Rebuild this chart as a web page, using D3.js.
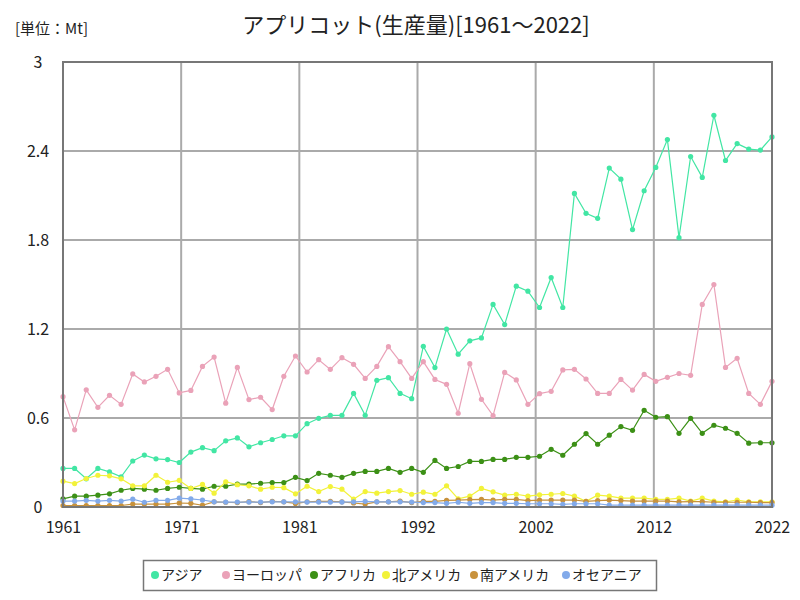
<!DOCTYPE html>
<html><head><meta charset="utf-8">
<script src="https://cdn.jsdelivr.net/npm/d3@7"></script>
<style>body{margin:0;background:#fff}</style>
</head><body>
<svg id="c" width="800" height="600"></svg>
<script>
const years = d3.range(1961, 2023);
const seriesNames = ["アジア","ヨーロッパ","アフリカ","北アメリカ","南アメリカ","オセアニア"];
const seriesColors = ["#42e6a4","#eaa2b8","#3c9016","#f2f23a","#c8923c","#82aaea"];
const asia = [0.26,0.26,0.19,0.26,0.237,0.204,0.31,0.35,0.325,0.32,
0.30,0.37,0.40,0.38,0.446,0.466,0.406,0.433,0.455,0.48,
0.48,0.562,0.598,0.618,0.618,0.766,0.618,0.854,0.872,0.766,
0.73,1.083,0.94,1.20,1.03,1.12,1.14,1.366,1.23,1.489,
1.455,1.345,1.547,1.345,2.114,1.98,1.946,2.285,2.21,1.87,
2.132,2.289,2.477,1.816,2.363,2.222,2.641,2.336,2.45,2.413,
2.406,2.495];
const europe = [0.744,0.52,0.79,0.672,0.753,0.692,0.897,0.843,0.881,0.928,
0.769,0.786,0.948,1.011,0.70,0.941,0.724,0.74,0.657,0.881,
1.018,0.91,0.993,0.928,1.007,0.962,0.867,0.948,1.081,0.98,
0.867,0.98,0.86,0.827,0.632,0.966,0.726,0.616,0.907,0.857,
0.692,0.764,0.78,0.924,0.928,0.863,0.766,0.766,0.86,0.788,
0.894,0.847,0.874,0.90,0.888,1.366,1.50,0.941,1.002,0.766,
0.692,0.847];
const africa = [0.055,0.073,0.073,0.08,0.089,0.113,0.125,0.12,0.113,0.125,
0.133,0.125,0.12,0.14,0.14,0.154,0.154,0.16,0.165,0.165,
0.20,0.178,0.227,0.214,0.20,0.227,0.24,0.24,0.26,0.234,
0.26,0.234,0.314,0.26,0.273,0.307,0.307,0.321,0.321,0.335,
0.335,0.342,0.389,0.349,0.423,0.495,0.423,0.484,0.542,0.517,
0.652,0.605,0.609,0.497,0.598,0.497,0.551,0.531,0.497,0.43,
0.433,0.433];
const northAmerica = [0.174,0.158,0.192,0.214,0.21,0.19,0.143,0.143,0.214,0.167,
0.18,0.125,0.152,0.093,0.17,0.15,0.143,0.12,0.133,0.13,
0.089,0.14,0.104,0.138,0.12,0.053,0.104,0.093,0.104,0.111,
0.086,0.1,0.086,0.143,0.055,0.073,0.125,0.102,0.08,0.086,
0.073,0.082,0.086,0.091,0.073,0.038,0.08,0.073,0.06,0.06,
0.06,0.052,0.052,0.06,0.04,0.06,0.04,0.035,0.047,0.035,
0.035,0.035];
const southAmerica = [0.01,0.01,0.01,0.01,0.01,0.01,0.02,0.02,0.02,0.02,
0.027,0.025,0.012,0.035,0.032,0.03,0.036,0.03,0.038,0.035,
0.024,0.035,0.038,0.038,0.035,0.027,0.02,0.035,0.035,0.04,
0.03,0.038,0.038,0.045,0.047,0.05,0.052,0.047,0.052,0.052,
0.043,0.047,0.047,0.047,0.047,0.038,0.043,0.047,0.043,0.04,
0.04,0.04,0.04,0.035,0.036,0.036,0.032,0.032,0.032,0.032,
0.03,0.03];
const oceania = [0.04,0.04,0.045,0.04,0.045,0.04,0.053,0.032,0.045,0.045,
0.06,0.055,0.047,0.035,0.033,0.033,0.033,0.033,0.035,0.035,
0.035,0.033,0.033,0.033,0.033,0.035,0.038,0.035,0.035,0.035,
0.033,0.03,0.03,0.025,0.032,0.025,0.03,0.03,0.025,0.025,
0.022,0.022,0.022,0.018,0.022,0.022,0.022,0.012,0.012,0.012,
0.012,0.012,0.012,0.012,0.012,0.012,0.012,0.012,0.012,0.012,
0.012,0.012];
const yTicks = [0,0.6,1.2,1.8,2.4,3];
const title = "アプリコット(生産量)[1961～2022]";
const unitLabel = "[単位：Mt]";

const allSeries = [asia, europe, africa, northAmerica, southAmerica, oceania];
const svg = d3.select("#c");
const font = "'Noto Sans CJK JP', sans-serif";
const L=63, R=772, T=62, B=507;
const x = d3.scaleLinear().domain([1961,2022]).range([L,R]);
const y = d3.scaleLinear().domain([0,3]).range([B,T]);
const xTicks = d3.range(0,7).map(i => 1961 + i*(2022-1961)/6);

// grid
svg.append("g").selectAll("line").data(yTicks).join("line")
  .attr("x1",L).attr("x2",R).attr("y1",d=>y(d)).attr("y2",d=>y(d))
  .attr("stroke","#aaa").attr("stroke-width",2);
svg.append("g").selectAll("line").data(xTicks).join("line")
  .attr("y1",T).attr("y2",B).attr("x1",d=>x(d)).attr("x2",d=>x(d))
  .attr("stroke","#aaa").attr("stroke-width",2);

// series
const line = d3.line().x((d,i)=>x(years[i])).y(d=>y(d));
allSeries.forEach((s,k)=>{
  const g = svg.append("g");
  g.append("path").datum(s).attr("d",line).attr("fill","none")
   .attr("stroke",seriesColors[k]).attr("stroke-width",1.2);
  g.selectAll("circle").data(s).join("circle")
   .attr("cx",(d,i)=>x(years[i])).attr("cy",d=>y(d)).attr("r",2.6)
   .attr("fill",seriesColors[k]);
});

// border
svg.append("rect").attr("x",L).attr("y",T).attr("width",R-L).attr("height",B-T)
  .attr("fill","none").attr("stroke","#777").attr("stroke-width",2);

// axes labels
const yAxis = d3.axisLeft(y).tickValues(yTicks).tickSize(0).tickFormat(d=>String(d));
const ya = svg.append("g").attr("transform",`translate(${L},0)`).call(yAxis);
ya.select(".domain").remove();
ya.selectAll("text").attr("x",38-L).attr("text-anchor","middle")
  .style("font-family",font).style("font-size","16px").attr("fill","#222");
const xAxis = d3.axisBottom(x).tickValues(xTicks).tickSize(0).tickFormat(d=>String(Math.round(d)));
const xa = svg.append("g").attr("transform",`translate(0,${B})`).call(xAxis);
xa.select(".domain").remove();
xa.selectAll("text").attr("y",15)
  .style("font-family",font).style("font-size","16px").attr("fill","#222");

// titles
svg.append("text").attr("x",416).attr("y",33).attr("text-anchor","middle")
  .style("font-family",font).style("font-size","22px").attr("fill","#222").text(title);
svg.append("text").attr("x",15).attr("y",34)
  .style("font-family",font).style("font-size","15px").attr("fill","#222").text(unitLabel);

// legend
svg.append("rect").attr("x",143.5).attr("y",560.5).attr("width",513).attr("height",30)
  .attr("fill","#fff").attr("stroke","#777").attr("stroke-width",1.5);
const legendX = [155,226,314,386,474,566];
seriesNames.forEach((n,k)=>{
  svg.append("circle").attr("cx",legendX[k]).attr("cy",575).attr("r",4).attr("fill",seriesColors[k]);
  svg.append("text").attr("x",legendX[k]+6).attr("y",580)
    .style("font-family",font).style("font-size","14px").attr("fill","#222").text(n);
});
</script>
</body></html>
